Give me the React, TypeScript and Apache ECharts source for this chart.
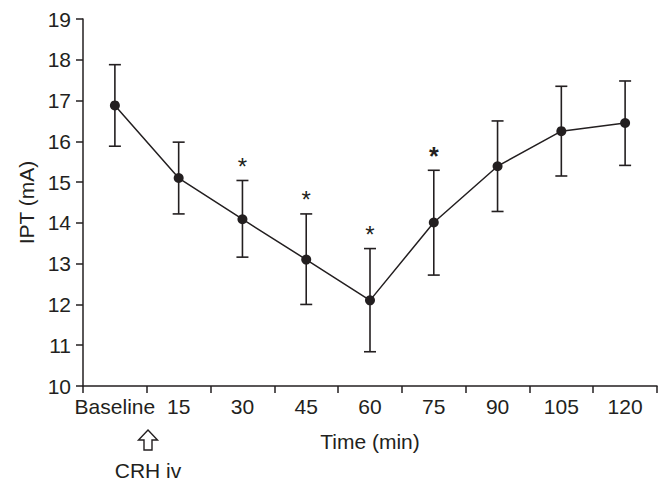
import React, { useEffect, useRef } from "react";
import * as echarts from "echarts";

const categories = ["Baseline", "15", "30", "45", "60", "75", "90", "105", "120"];
const meanValues = [16.88, 15.1, 14.09, 13.1, 12.1, 14.01, 15.39, 16.25, 16.45];
const upperValues = [17.88, 15.98, 15.04, 14.22, 13.37, 15.29, 16.5, 17.35, 17.48];
const lowerValues = [15.88, 14.22, 13.16, 12.0, 10.84, 12.72, 14.28, 15.15, 15.41];
// 0 = none, 1 = asterisk, 2 = bold asterisk
const significance = [0, 0, 1, 1, 1, 2, 0, 0, 0];
const yTicks = { min: 10, max: 19, interval: 1 };

const INK = "#231f20";
const FONT = "'Liberation Sans', Arial, Helvetica, sans-serif";
const FS = 21;

export default function App() {
  const ref = useRef<HTMLDivElement>(null);

  useEffect(() => {
    if (!ref.current) return;
    const chart = echarts.init(ref.current, null, { renderer: "svg" });

    const errData = categories.map((_, i) => [i, lowerValues[i], upperValues[i]]);
    const sigData = categories
      .map((_, i) => [i, upperValues[i], significance[i]])
      .filter((d) => d[2] > 0);

    const option: any = {
      animation: false,
      backgroundColor: "#ffffff",
      textStyle: { fontFamily: FONT, color: INK },
      grid: { left: 83, right: 13, top: 19, bottom: 106, containLabel: false },
      xAxis: {
        type: "category",
        data: categories,
        boundaryGap: true,
        name: "Time (min)",
        nameLocation: "middle",
        nameGap: 45,
        nameTextStyle: { fontSize: FS, color: INK, fontFamily: FONT },
        axisLine: { lineStyle: { color: INK, width: 1.5 } },
        axisTick: { show: true, length: 7, inside: false, lineStyle: { color: INK, width: 1.5 } },
        axisLabel: { fontSize: FS, color: INK, margin: 10, fontFamily: FONT, interval: 0 },
        splitLine: { show: false },
      },
      yAxis: {
        type: "value",
        min: yTicks.min,
        max: yTicks.max,
        interval: yTicks.interval,
        name: "IPT (mA)",
        nameLocation: "middle",
        nameGap: 46,
        nameRotate: 90,
        nameTextStyle: { fontSize: FS, color: INK, fontFamily: FONT },
        axisLine: { show: true, lineStyle: { color: INK, width: 1.5 } },
        axisTick: { show: true, length: 7, lineStyle: { color: INK, width: 1.5 } },
        axisLabel: { fontSize: FS, color: INK, margin: 12, fontFamily: FONT },
        splitLine: { show: false },
      },
      series: [
        {
          type: "custom",
          name: "err",
          data: errData,
          z: 2,
          renderItem: (params: any, api: any) => {
            const x = api.value(0);
            const lo = api.coord([x, api.value(1)]);
            const hi = api.coord([x, api.value(2)]);
            const hw = 6;
            const st = { stroke: INK, lineWidth: 1.6 };
            return {
              type: "group",
              children: [
                { type: "line", shape: { x1: lo[0], y1: lo[1], x2: hi[0], y2: hi[1] }, style: st },
                { type: "line", shape: { x1: hi[0] - hw, y1: hi[1], x2: hi[0] + hw, y2: hi[1] }, style: st },
                { type: "line", shape: { x1: lo[0] - hw, y1: lo[1], x2: lo[0] + hw, y2: lo[1] }, style: st },
              ],
            };
          },
        },
        {
          type: "custom",
          name: "sig",
          data: sigData,
          z: 3,
          renderItem: (params: any, api: any) => {
            const x = api.value(0);
            const p = api.coord([x, api.value(1)]);
            const bold = api.value(2) === 2;
            return {
              type: "text",
              x: p[0],
              y: p[1] - 14,
              style: {
                text: "*",
                fontSize: bold ? 25 : 24,
                fontWeight: bold ? "bold" : "normal",
                fontFamily: FONT,
                fill: INK,
                align: "center",
                verticalAlign: "middle",
              },
            };
          },
        },
        {
          type: "line",
          name: "IPT",
          data: meanValues,
          z: 4,
          symbol: "circle",
          symbolSize: 10,
          lineStyle: { color: INK, width: 1.5 },
          itemStyle: { color: INK },
        },
      ],
      graphic: [
        {
          type: "polygon",
          shape: {
            points: [
              [148, 430],
              [157.5, 440],
              [152, 440],
              [152, 450],
              [144, 450],
              [144, 440],
              [138.5, 440],
            ],
          },
          style: { fill: "#ffffff", stroke: INK, lineWidth: 1.4 },
        },
        {
          type: "text",
          x: 148,
          y: 470,
          style: {
            text: "CRH iv",
            fontSize: FS,
            fontFamily: FONT,
            fill: INK,
            align: "center",
            verticalAlign: "middle",
          },
        },
      ],
    };

    chart.setOption(option);
    return () => chart.dispose();
  }, []);

  return <div ref={ref} style={{ width: 670, height: 492, margin: -8 }} />;
}
